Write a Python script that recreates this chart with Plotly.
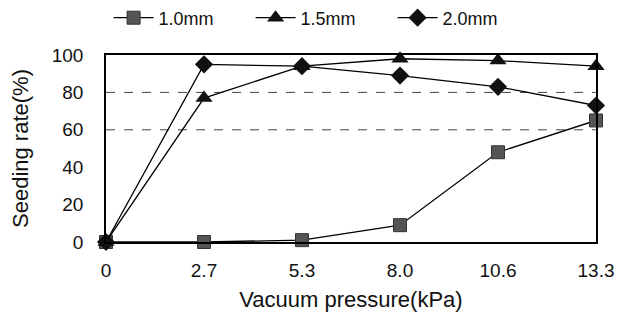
import plotly.graph_objects as go

categories = ["0", "2.7", "5.3", "8.0", "10.6", "13.3"]
s10 = [0, 0, 1, 9, 48, 65]
s15 = [0, 77, 94, 98, 97, 94]
s20 = [0, 95, 94, 89, 83, 73]

FONT = "Liberation Sans, Arial, sans-serif"
idx = list(range(len(categories)))
fig = go.Figure()
fig.add_trace(go.Scatter(x=idx, y=s10, name="1.0mm", mode="lines+markers",
                         line=dict(color="black", width=1.3),
                         marker=dict(symbol="square", size=13, color="#555555",
                                     line=dict(color="#333333", width=1)), cliponaxis=False))
fig.add_trace(go.Scatter(x=idx, y=s15, name="1.5mm", mode="lines+markers",
                         line=dict(color="black", width=1.3),
                         marker=dict(symbol="triangle-up", size=15, color="#111111"), cliponaxis=False))
fig.add_trace(go.Scatter(x=idx, y=s20, name="2.0mm", mode="lines+markers",
                         line=dict(color="black", width=1.3),
                         marker=dict(symbol="diamond", size=14, color="#111111"), cliponaxis=False))

for yv in [60, 80]:
    fig.add_shape(type="line", xref="paper", yref="y", x0=0, x1=1, y0=yv, y1=yv,
                  line=dict(color="#444444", width=1, dash="dash"), layer="below")

fig.update_layout(
    width=621, height=315,
    margin=dict(l=98, r=33, t=47, b=81, autoexpand=False),
    paper_bgcolor="white", plot_bgcolor="white",
    font=dict(family=FONT, size=18, color="#111111"),
    showlegend=True,
    legend=dict(orientation="h", x=0.44, xanchor="center", y=1 - 10 / 315, yanchor="middle",
                yref="container", font=dict(family=FONT, size=18, color="#111111"), itemwidth=40,
                entrywidth=87, bgcolor="rgba(0,0,0,0)"),
    xaxis=dict(range=[0, 5], tickvals=idx, ticktext=categories, showgrid=False,
               zeroline=False, showline=True, linecolor="black", linewidth=1.5,
               mirror=True, ticks="", ticklabelstandoff=10, automargin=False,
               tickfont=dict(family=FONT, size=19, color="#111111"),
               title=dict(text="Vacuum pressure(kPa)", standoff=12)),
    yaxis=dict(range=[0, 100], tickvals=[0, 20, 40, 60, 80, 100], showgrid=False,
               zeroline=False, showline=True, linecolor="black", linewidth=1.5,
               mirror=True, ticks="", ticklabelstandoff=17, automargin=False,
               tickfont=dict(family=FONT, size=19, color="#111111"),
               title=dict(text="Seeding rate(%)", standoff=19)),
)
fig.write_html("out.html")
